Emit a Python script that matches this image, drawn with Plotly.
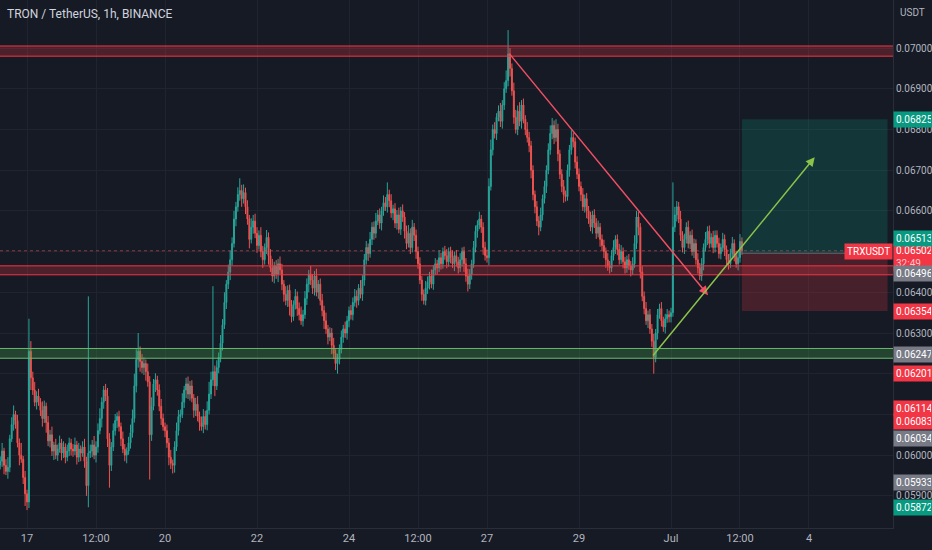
import pandas as pd
import plotly.graph_objects as go

# hourly candles, prices in 1e-5 USDT, first candle Jun 16 10:00
first_open = 5975
close = [
    5985, 6010, 5975, 5960, 5970, 6040, 6075, 6100, 6085, 6030, 6000, 5990, 5945, 5905,  # Jun 16
    5885, 6255, 6190, 6160, 6130, 6145, 6130, 6110, 6090, 6120, 6080, 6035, 6050, 6010, 6025, 6000, 6015, 6030, 6005, 6020, 5995, 6010, 6030, 6015,  # 17
    6010, 6025, 5995, 6015, 6005, 6020, 5985, 5925, 6005, 6010, 6025, 6000, 6020, 6060, 6090, 6130, 6160, 6145, 6040, 5975, 6020, 6060, 6085, 6095,  # 18
    6070, 6040, 6015, 6000, 6010, 6030, 6055, 6090, 6170, 6235, 6255, 6230, 6215, 6225, 6205, 6180, 6050, 6120, 6175, 6185, 6160, 6120, 6090, 6070,  # 19
    6060, 6030, 5995, 5980, 5975, 6020, 6060, 6095, 6100, 6130, 6160, 6175, 6150, 6170, 6140, 6110, 6125, 6095, 6080, 6070, 6095, 6075, 6110, 6150,  # 20
    6185, 6205, 6170, 6215, 6240, 6275, 6320, 6375, 6420, 6450, 6480, 6520, 6580, 6610, 6640, 6650, 6630, 6645, 6610, 6580, 6530, 6560, 6575, 6545,  # 21
    6515, 6540, 6500, 6480, 6510, 6535, 6490, 6460, 6440, 6465, 6445, 6470, 6455, 6420, 6395, 6380, 6405, 6365, 6340, 6370, 6390, 6360, 6345, 6330,  # 22
    6345, 6385, 6420, 6445, 6430, 6410, 6440, 6400, 6420, 6380, 6355, 6330, 6310, 6290, 6300, 6270, 6250, 6225, 6235, 6260, 6290, 6310, 6300, 6330,  # 23
    6355, 6345, 6375, 6390, 6380, 6410, 6395, 6430, 6480, 6510, 6495, 6530, 6560, 6545, 6575, 6590, 6570, 6600, 6620, 6610, 6640, 6625, 6595, 6605,  # 24
    6570, 6590, 6555, 6600, 6585, 6550, 6520, 6545, 6510, 6560, 6540, 6500, 6470, 6430, 6395, 6380, 6410, 6425, 6440, 6420, 6455, 6470, 6460, 6485,  # 25
    6470, 6500, 6490, 6475, 6500, 6485, 6470, 6490, 6475, 6460, 6480, 6500, 6470, 6440, 6420, 6445, 6470, 6510, 6550, 6565, 6580, 6560, 6510, 6490,  # 26
    6485, 6660, 6750, 6800, 6790, 6830, 6845, 6820, 6860, 6900, 6920, 6985, 6950, 6895, 6830, 6800, 6845, 6820, 6860, 6825, 6800, 6780, 6760, 6700,  # 27
    6640, 6610, 6575, 6560, 6590, 6630, 6660, 6700, 6750, 6790, 6810, 6780, 6800, 6740, 6690, 6660, 6640, 6635, 6700, 6750, 6780, 6770, 6720, 6690,  # 28
    6660, 6640, 6610, 6630, 6600, 6580, 6560, 6590, 6570, 6545, 6560, 6530, 6515, 6500, 6480, 6465, 6460, 6490, 6510, 6530, 6505, 6480, 6500, 6475,  # 29
    6460, 6480, 6465, 6455, 6470, 6520, 6585, 6560, 6450, 6390, 6360, 6330, 6345, 6310, 6280, 6240, 6300, 6345, 6360, 6330, 6315, 6335, 6345, 6340,  # 30
    6350, 6560, 6590, 6610, 6580, 6540, 6510, 6530, 6560, 6520, 6540, 6500, 6520, 6480, 6460, 6440, 6470, 6510, 6530, 6550, 6520, 6535, 6510, 6540,  # Jul 1
    6520, 6495, 6510, 6530, 6505, 6480, 6470, 6495, 6520, 6490, 6470, 6485, 6525, 6502,  # Jul 2
]
upper_wick = [
    12, 20, 8, 15, 25, 10, 18, 22, 9, 14, 11, 30, 8, 16,
    10, 80, 25, 15, 20, 12, 18, 10, 22, 14, 9, 16, 12, 20, 8, 15, 11, 18, 10, 14, 9, 16, 13, 10,
    12, 18, 10, 15, 9, 14, 20, 11, 385, 16, 12, 22, 14, 18, 25, 12, 10, 15, 20, 14, 12, 18, 16, 10,
    14, 10, 18, 12, 9, 15, 20, 22, 30, 25, 45, 12, 18, 15, 10, 20, 14, 22, 12, 16, 10, 14, 18, 12,
    10, 15, 12, 18, 9, 14, 20, 16, 12, 22, 10, 15, 18, 12, 14, 10, 16, 20, 12, 15, 18, 14, 22, 30,
    20, 210, 15, 18, 12, 20, 14, 25, 10, 18, 22, 15, 20, 12, 18, 30, 14, 20, 12, 16, 10, 22, 15, 18,
    15, 12, 20, 14, 10, 18, 12, 16, 22, 10, 14, 12, 18, 15, 10, 20, 12, 14, 16, 10, 18, 12, 15, 20,
    12, 18, 14, 10, 20, 15, 12, 18, 10, 14, 16, 12, 20, 10, 14, 12, 18, 10, 14, 12, 16, 10, 18, 12,
    10, 14, 12, 18, 15, 10, 20, 12, 14, 16, 10, 18, 12, 14, 20, 12, 16, 10, 18, 14, 30, 12, 16, 10,
    14, 12, 18, 10, 16, 12, 14, 20, 12, 18, 10, 14, 12, 16, 10, 12, 18, 14, 10, 16, 12, 14, 10, 18,
    12, 10, 14, 16, 10, 12, 18, 10, 14, 12, 16, 10, 12, 14, 18, 12, 10, 16, 14, 12, 18, 10, 12, 14,
    15, 20, 25, 12, 18, 10, 14, 20, 12, 16, 25, 59, 15, 12, 20, 18, 14, 22, 12, 16, 10, 18, 14, 12,
    12, 10, 14, 12, 18, 10, 14, 12, 16, 20, 18, 12, 25, 14, 10, 12, 16, 10, 14, 12, 18, 12, 10, 14,
    14, 12, 16, 10, 14, 12, 18, 10, 14, 12, 16, 10, 12, 14, 10, 16, 12, 14, 18, 10, 12, 14, 16, 10,
    12, 10, 14, 12, 16, 20, 15, 12, 10, 14, 12, 16, 10, 14, 12, 18, 10, 14, 12, 16, 10, 12, 14, 10,
    12, 110, 20, 14, 12, 20, 10, 14, 12, 16, 10, 14, 12, 10, 16, 12, 14, 10, 18, 12, 14, 10, 16, 12,
    12, 14, 10, 16, 12, 10, 14, 12, 16, 10, 12, 14, 18, 10,
]
lower_wick = [
    10, 14, 22, 9, 18, 12, 8, 15, 20, 11, 25, 9, 16, 30,
    20, 15, 30, 12, 10, 18, 9, 14, 20, 11, 25, 13, 16, 12, 22, 10, 14, 9, 18, 12, 15, 10, 12, 16,
    14, 10, 18, 12, 20, 9, 16, 25, 53, 12, 15, 10, 18, 14, 9, 22, 16, 12, 20, 55, 14, 10, 12, 18,
    12, 18, 10, 15, 20, 9, 14, 12, 10, 16, 20, 25, 14, 18, 22, 12, 110, 15, 10, 20, 14, 12, 16, 10,
    16, 12, 20, 14, 20, 18, 10, 12, 15, 9, 14, 20, 12, 16, 10, 18, 14, 12, 20, 10, 16, 12, 14, 10,
    12, 15, 25, 10, 14, 12, 18, 10, 16, 12, 20, 14, 10, 18, 12, 15, 20, 12, 18, 14, 22, 10, 16, 12,
    18, 10, 14, 20, 12, 16, 22, 10, 14, 18, 12, 20, 10, 15, 18, 12, 16, 22, 14, 10, 12, 18, 14, 10,
    14, 10, 16, 20, 12, 14, 18, 10, 16, 12, 14, 20, 12, 18, 10, 22, 14, 16, 25, 12, 10, 14, 12, 16,
    16, 12, 14, 10, 18, 12, 10, 16, 14, 12, 18, 10, 14, 16, 12, 10, 14, 18, 12, 10, 14, 16, 12, 18,
    12, 16, 10, 14, 12, 18, 14, 10, 16, 12, 14, 18, 12, 10, 16, 10, 12, 14, 18, 10, 14, 12, 16, 10,
    14, 12, 10, 16, 12, 14, 10, 18, 12, 14, 10, 16, 20, 14, 18, 12, 14, 10, 12, 16, 10, 14, 18, 12,
    12, 18, 10, 14, 12, 16, 10, 14, 18, 12, 10, 14, 20, 12, 16, 10, 14, 12, 18, 10, 14, 12, 16, 20,
    14, 16, 12, 20, 10, 14, 12, 16, 10, 12, 14, 16, 10, 18, 12, 14, 20, 12, 10, 16, 12, 14, 16, 12,
    12, 16, 10, 14, 18, 12, 10, 16, 12, 14, 10, 18, 12, 16, 20, 12, 14, 10, 12, 16, 14, 12, 10, 16,
    14, 12, 10, 16, 12, 10, 14, 20, 16, 12, 14, 10, 18, 12, 14, 40, 12, 16, 10, 14, 12, 16, 10, 14,
    14, 10, 12, 16, 10, 14, 12, 16, 10, 12, 14, 10, 16, 12, 14, 10, 12, 16, 10, 14, 12, 10, 14, 12,
    10, 12, 14, 10, 16, 12, 14, 10, 12, 14, 10, 16, 12, 10,
]

# drawn levels / tools
top_zone = (0.06980, 0.07005)
mid_zone = (0.06443, 0.06465)
support_zone = (0.06238, 0.06262)
entry, target, stop = 0.06496, 0.06825, 0.06354
last_price = 0.06502

tick_dates = ["2022-06-17", "2022-06-18 12:00", "2022-06-20", "2022-06-22", "2022-06-24",
              "2022-06-25 12:00", "2022-06-27", "2022-06-29", "2022-07-01", "2022-07-02 12:00", "2022-07-04"]
tick_text = ["17", "12:00", "20", "22", "24", "12:00", "27", "29", "Jul", "12:00", "4"]
price_ticks = [0.059, 0.060, 0.061, 0.062, 0.063, 0.064, 0.065, 0.066, 0.067, 0.068, 0.069, 0.070]
hidden_ticks = [0.061, 0.062, 0.065]

# right-axis price tags: (price, colour, pixel shift)
tags = [
    (0.06825, "#089981", 0), (0.06513, "#089981", 8), (0.06496, "#787b86", -20),
    (0.06354, "#f23645", 0), (0.06247, "#787b86", 0), (0.06201, "#f23645", 0),
    (0.06114, "#f23645", 0), (0.06083, "#f23645", 0), (0.06034, "#787b86", 3),
    (0.05933, "#787b86", 0), (0.05872, "#089981", 0),
]

times = pd.date_range("2022-06-16 10:00", periods=len(close), freq="h")
opens = [first_open] + close[:-1]
highs = [max(o, c) + w for o, c, w in zip(opens, close, upper_wick)]
lows = [min(o, c) - w for o, c, w in zip(opens, close, lower_wick)]
k = 1e-5

BG = "#161a25"
GRID = "#1f2430"
TXT = "#b2b5be"
FONT = "Roboto, Open Sans, sans-serif"

fig = go.Figure(go.Candlestick(
    x=times,
    open=[v * k for v in opens], high=[v * k for v in highs],
    low=[v * k for v in lows], close=[v * k for v in close],
    increasing=dict(line=dict(color="#26a69a", width=1), fillcolor="#26a69a"),
    decreasing=dict(line=dict(color="#ef5350", width=1), fillcolor="#ef5350"),
    whiskerwidth=0, hoverinfo="skip", showlegend=False,
))

shapes = []
for (lo, hi), col, fill in [(top_zone, "#f23645", "rgba(242,54,69,0.25)"),
                            (mid_zone, "#f23645", "rgba(242,54,69,0.25)"),
                            (support_zone, "#66bb6a", "rgba(76,175,80,0.28)")]:
    shapes.append(dict(type="rect", xref="paper", x0=0, x1=1, y0=lo, y1=hi,
                       fillcolor=fill, line_width=0, layer="above"))
    for lvl in (lo, hi):
        shapes.append(dict(type="line", xref="paper", x0=0, x1=1, y0=lvl, y1=lvl,
                           line=dict(color=col, width=1), layer="above"))

shapes.append(dict(type="line", xref="paper", x0=0, x1=1, y0=last_price, y1=last_price,
                   line=dict(color="rgba(239,83,80,0.55)", width=1, dash="dot")))

box_x0, box_x1 = "2022-07-02 13:00", "2022-07-05 17:00"
shapes.append(dict(type="rect", x0=box_x0, x1=box_x1, y0=entry, y1=target,
                   fillcolor="rgba(8,153,129,0.22)", line_width=0, layer="above"))
shapes.append(dict(type="rect", x0=box_x0, x1=box_x1, y0=stop, y1=entry,
                   fillcolor="rgba(242,54,69,0.22)", line_width=0, layer="above"))
shapes.append(dict(type="line", x0=box_x0, x1=box_x1, y0=entry, y1=entry,
                   line=dict(color="rgba(120,123,134,0.8)", width=1)))

annotations = [
    # trend lines with arrows
    dict(x="2022-07-01 19:20", y=0.06393, ax="2022-06-27 11:00", ay=0.06990,
         xref="x", yref="y", axref="x", ayref="y", text="", showarrow=True,
         arrowhead=2, arrowsize=1.2, arrowwidth=1.5, arrowcolor="#f24e63"),
    dict(x="2022-07-04 03:00", y=0.06732, ax="2022-06-30 14:00", ay=0.06241,
         xref="x", yref="y", axref="x", ayref="y", text="", showarrow=True,
         arrowhead=2, arrowsize=1.2, arrowwidth=1.5, arrowcolor="#8bc34a"),
    dict(xref="paper", yref="paper", x=0, y=1, xanchor="left", yanchor="top",
         xshift=5, yshift=-5, showarrow=False, text="TRON / TetherUS, 1h, BINANCE",
         font=dict(color="#d1d4dc", size=12, family=FONT)),
    dict(xref="paper", yref="paper", x=1, y=1, xanchor="left", yanchor="top",
         xshift=5, yshift=-5, showarrow=False, text="USDT",
         font=dict(color=TXT, size=10, family=FONT)),
    dict(xref="paper", yref="y", x=1, y=last_price, xanchor="right", yshift=-1,
         showarrow=False, text="TRXUSDT", bgcolor="#f23645", borderpad=2,
         font=dict(color="white", size=10, family=FONT)),
    dict(xref="paper", yref="y", x=1, y=last_price, xanchor="left", yshift=-6,
         showarrow=False, width=35, height=24, align="left", valign="middle",
         bgcolor="#f23645", borderpad=2,
         text="0.06502<br><span style='color:#fbc4c8'>32:49</span>",
         font=dict(color="white", size=10, family=FONT)),
]
for p, col, shift in tags:
    annotations.append(dict(xref="paper", yref="y", x=1, y=p, xanchor="left", yshift=shift,
                            showarrow=False, width=35, align="left", bgcolor=col, borderpad=2,
                            text=f"{p:.5f}", font=dict(color="white", size=10, family=FONT)))

fig.update_layout(
    width=932, height=550,
    margin=dict(l=0, r=39, t=0, b=22),
    paper_bgcolor=BG, plot_bgcolor=BG,
    font=dict(family=FONT, color=TXT, size=11),
    shapes=shapes, annotations=annotations,
    xaxis=dict(type="date", range=["2022-06-16 09:54", "2022-07-05 19:50"],
               tickvals=tick_dates, ticktext=tick_text, showgrid=True, gridcolor=GRID,
               showline=True, linecolor="#2a2e39", zeroline=False,
               rangeslider=dict(visible=False), tickfont=dict(size=11, color=TXT)),
    yaxis=dict(side="right", range=[0.05821, 0.07118], tickvals=price_ticks,
               ticktext=["" if t in hidden_ticks else f"{t:.5f}" for t in price_ticks],
               showgrid=True, gridcolor=GRID, showline=True, linecolor="#2a2e39",
               zeroline=False, tickfont=dict(size=10, color=TXT)),
)

# page body has a default margin; drop it so the chart sits at the window corner
fig.write_html("out.html", config={"displayModeBar": False},
               post_script="document.body.style.margin='0';"
               "document.body.style.background='" + BG + "';")
